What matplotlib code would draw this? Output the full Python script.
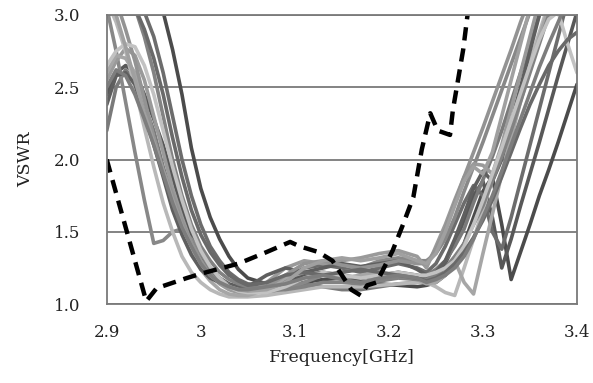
import matplotlib
matplotlib.use("Agg")
import matplotlib.pyplot as plt

# frequency grid shared by the measured curves [GHz]
freq = [2.90, 2.91, 2.92, 2.93, 2.94, 2.95, 2.96, 2.97, 2.98, 2.99,
        3.00, 3.01, 3.02, 3.03, 3.04, 3.05,
        3.07, 3.09, 3.11, 3.13, 3.15, 3.17, 3.19, 3.21, 3.23,
        3.24, 3.25, 3.26, 3.27, 3.28, 3.29, 3.30, 3.31, 3.32,
        3.33, 3.34, 3.35, 3.36, 3.37, 3.38, 3.39, 3.40]

# measured VSWR, one list per element (values above 3.0 run off the top)
vswr_01 = [3.90, 3.80, 3.65, 3.50, 3.35, 3.20, 3.02, 2.76, 2.45, 2.08,
           1.80, 1.60, 1.45, 1.33, 1.24, 1.18,
           1.14, 1.13, 1.15, 1.17, 1.18, 1.16, 1.14, 1.13, 1.12,
           1.13, 1.15, 1.20, 1.30, 1.42, 1.60, 1.78, 1.88, 1.55,
           1.17, 1.36, 1.55, 1.75, 1.93, 2.12, 2.32, 2.52]
vswr_02 = [2.45, 2.60, 2.65, 2.60, 2.45, 2.28, 2.10, 1.88, 1.66, 1.48,
           1.34, 1.25, 1.18, 1.14, 1.12, 1.11,
           1.12, 1.16, 1.20, 1.22, 1.20, 1.18, 1.20, 1.22, 1.20,
           1.18, 1.20, 1.28, 1.42, 1.58, 1.75, 1.85, 1.60, 1.25,
           1.45, 1.68, 1.90, 2.12, 2.35, 2.58, 2.80, 3.02]
vswr_03 = [3.60, 3.45, 3.30, 3.15, 3.02, 2.85, 2.60, 2.30, 2.00, 1.75,
           1.55, 1.40, 1.30, 1.22, 1.17, 1.14,
           1.13, 1.18, 1.25, 1.27, 1.25, 1.22, 1.25, 1.28, 1.25,
           1.22, 1.28, 1.40, 1.55, 1.70, 1.82, 1.75, 1.50, 1.38,
           1.60, 1.85, 2.10, 2.35, 2.60, 2.85, 3.10, 3.35]
vswr_04 = [2.20, 2.50, 2.62, 2.55, 2.38, 2.20, 1.95, 1.74, 1.55, 1.40,
           1.30, 1.22, 1.17, 1.13, 1.11, 1.10,
           1.10, 1.12, 1.14, 1.12, 1.10, 1.10, 1.12, 1.14, 1.15,
           1.20, 1.24, 1.30, 1.40, 1.52, 1.70, 1.86, 2.02, 2.20,
           2.40, 2.60, 2.80, 3.00, 3.20, 3.40, 3.60, 3.80]
vswr_05 = [3.05, 2.75, 2.40, 2.05, 1.72, 1.42, 1.44, 1.50, 1.52, 1.45,
           1.35, 1.25, 1.18, 1.13, 1.10, 1.09,
           1.08, 1.10, 1.15, 1.20, 1.22, 1.25, 1.30, 1.32, 1.30,
           1.30, 1.35, 1.45, 1.60, 1.78, 1.95, 2.12, 2.30, 2.48,
           2.66, 2.84, 3.02, 3.20, 3.40, 3.60, 3.80, 4.00]
vswr_06 = [2.55, 2.68, 2.77, 2.72, 2.55, 2.30, 2.05, 1.80, 1.60, 1.42,
           1.30, 1.20, 1.14, 1.10, 1.08, 1.07,
           1.15, 1.25, 1.30, 1.28, 1.30, 1.32, 1.35, 1.37, 1.33,
           1.25, 1.40, 1.55, 1.72, 1.88, 1.97, 1.96, 1.90, 2.10,
           2.35, 2.60, 2.85, 3.10, 3.35, 3.60, 3.80, 4.00]
vswr_07 = [3.10, 2.95, 2.75, 2.50, 2.22, 1.95, 1.70, 1.50, 1.33, 1.22,
           1.15, 1.10, 1.07, 1.05, 1.05, 1.05,
           1.06, 1.08, 1.10, 1.12, 1.12, 1.12, 1.13, 1.14, 1.15,
           1.15, 1.12, 1.08, 1.06, 1.25, 1.45, 1.65, 1.86, 2.06,
           2.27, 2.48, 2.68, 2.88, 3.08, 3.28, 3.50, 3.70]
vswr_08 = [2.60, 2.72, 2.70, 2.60, 2.40, 2.15, 1.92, 1.75, 1.56, 1.38,
           1.24, 1.16, 1.10, 1.07, 1.06, 1.06,
           1.10, 1.18, 1.22, 1.20, 1.18, 1.20, 1.22, 1.20, 1.17,
           1.14, 1.15, 1.20, 1.30, 1.15, 1.07, 1.35, 1.62, 1.90,
           2.15, 2.40, 2.62, 2.85, 3.05, 3.25, 3.45, 3.65]
vswr_09 = [2.38, 2.58, 2.60, 2.52, 2.32, 2.10, 1.88, 1.65, 1.48, 1.34,
           1.24, 1.18, 1.15, 1.13, 1.12, 1.12,
           1.20, 1.25, 1.22, 1.25, 1.28, 1.26, 1.28, 1.30, 1.24,
           1.20, 1.22, 1.30, 1.45, 1.62, 1.80, 1.92, 1.85, 2.00,
           2.25, 2.50, 2.75, 3.00, 3.25, 3.50, 3.70, 3.90]
vswr_10 = [3.30, 3.10, 2.90, 2.68, 2.42, 2.15, 1.92, 1.76, 1.57, 1.42,
           1.29, 1.20, 1.15, 1.12, 1.10, 1.10,
           1.12, 1.20, 1.28, 1.30, 1.27, 1.25, 1.27, 1.30, 1.28,
           1.28, 1.38, 1.52, 1.70, 1.88, 2.05, 2.22, 2.40, 2.58,
           2.76, 2.95, 3.12, 3.30, 3.50, 3.70, 3.90, 4.10]
vswr_11 = [3.50, 3.35, 3.20, 3.05, 2.85, 2.60, 2.30, 2.00, 1.75, 1.55,
           1.40, 1.30, 1.22, 1.17, 1.14, 1.12,
           1.10, 1.10, 1.12, 1.15, 1.15, 1.14, 1.16, 1.18, 1.17,
           1.17, 1.20, 1.25, 1.33, 1.42, 1.55, 1.68, 1.85, 2.02,
           2.20, 2.40, 2.60, 2.80, 3.00, 3.20, 3.40, 3.60]
vswr_12 = [2.65, 2.75, 2.80, 2.78, 2.65, 2.45, 2.20, 1.95, 1.72, 1.52,
           1.37, 1.26, 1.18, 1.12, 1.09, 1.08,
           1.08, 1.12, 1.18, 1.22, 1.20, 1.18, 1.20, 1.22, 1.20,
           1.20, 1.22, 1.25, 1.30, 1.40, 1.55, 1.72, 1.90, 2.08,
           2.27, 2.46, 2.65, 2.83, 2.97, 3.02, 2.80, 2.60]
vswr_13 = [3.40, 3.30, 3.18, 3.05, 2.90, 2.70, 2.45, 2.15, 1.88, 1.65,
           1.48, 1.36, 1.27, 1.20, 1.16, 1.13,
           1.15, 1.20, 1.22, 1.20, 1.22, 1.24, 1.22, 1.20, 1.18,
           1.16, 1.18, 1.22, 1.28, 1.36, 1.46, 1.58, 1.72, 1.88,
           2.05, 2.22, 2.38, 2.52, 2.65, 2.75, 2.83, 2.88]
vswr_14 = [3.20, 3.00, 2.78, 2.55, 2.32, 2.12, 1.92, 1.72, 1.54, 1.40,
           1.28, 1.20, 1.15, 1.12, 1.10, 1.09,
           1.10, 1.15, 1.25, 1.30, 1.32, 1.30, 1.32, 1.35, 1.30,
           1.28, 1.35, 1.50, 1.68, 1.85, 1.95, 1.90, 2.05, 2.30,
           2.55, 2.80, 3.05, 3.30, 3.55, 3.80, 4.00, 4.20]
vswr_15 = [2.50, 2.62, 2.58, 2.45, 2.28, 2.10, 1.90, 1.70, 1.53, 1.40,
           1.28, 1.20, 1.15, 1.12, 1.10, 1.10,
           1.12, 1.14, 1.18, 1.20, 1.17, 1.15, 1.18, 1.20, 1.18,
           1.15, 1.17, 1.20, 1.25, 1.33, 1.45, 1.60, 1.75, 1.92,
           2.10, 2.28, 2.46, 2.64, 2.80, 2.95, 3.10, 3.25]

measured = [vswr_01, vswr_02, vswr_03, vswr_04, vswr_05, vswr_06, vswr_07, vswr_08,
            vswr_09, vswr_10, vswr_11, vswr_12, vswr_13, vswr_14, vswr_15]
grays = ["#4b4b4b", "#585858", "#6c6c6c", "#7a7a7a", "#888888", "#9a9a9a", "#b8b8b8",
         "#a6a6a6", "#5f5f5f", "#939393", "#828282", "#c2c2c2", "#696969", "#a0a0a0",
         "#7d7d7d"]

# simulated curve (dashed)
sim_freq = [2.900, 2.942, 2.953, 2.985, 3.000, 3.040, 3.070, 3.095, 3.105, 3.125,
            3.140, 3.160, 3.170, 3.177, 3.187, 3.204, 3.215, 3.226, 3.235, 3.244,
            3.252, 3.265, 3.268, 3.279, 3.284]
sim_vswr = [2.00, 1.02, 1.11, 1.18, 1.21, 1.28, 1.36, 1.43, 1.40, 1.36,
            1.30, 1.10, 1.06, 1.13, 1.15, 1.37, 1.55, 1.74, 2.07, 2.32,
            2.20, 2.17, 2.34, 2.76, 3.02]

xticks = [2.9, 3.0, 3.1, 3.2, 3.3, 3.4]
xticklabels = ["2.9", "3", "3.1", "3.2", "3.3", "3.4"]
yticks = [1.0, 1.5, 2.0, 2.5, 3.0]

plt.rcParams["font.family"] = ["DejaVu Serif"]

fig = plt.figure(figsize=(5.93, 3.83), dpi=100)
ax = fig.add_axes([0.180, 0.206, 0.793, 0.755])

for vals, c in zip(measured, grays):
    ax.plot(freq, vals, color=c, lw=2.6, solid_joinstyle="round", solid_capstyle="round")
ax.plot(sim_freq, sim_vswr, color="black", lw=3.2, linestyle=(0, (3, 1.8)))

ax.set_xlim(2.9, 3.4)
ax.set_ylim(1.0, 3.0)
ax.set_xticks(xticks, xticklabels)
ax.set_yticks(yticks, [f"{v:.1f}" for v in yticks])
ax.tick_params(length=0, labelsize=12, colors="#222222")
ax.tick_params(axis="y", pad=19)
ax.tick_params(axis="x", pad=14)
ax.grid(axis="y", color="#7a7a7a", lw=1.3)
ax.set_axisbelow(True)
for s in ax.spines.values():
    s.set_color("#7a7a7a")
    s.set_linewidth(1.3)

ax.set_xlabel("Frequency[GHz]", fontsize=12.5, labelpad=6, color="#222222")
ax.set_ylabel("VSWR", fontsize=12.5, labelpad=14, color="#222222")

fig.savefig("out.png", dpi=100)
